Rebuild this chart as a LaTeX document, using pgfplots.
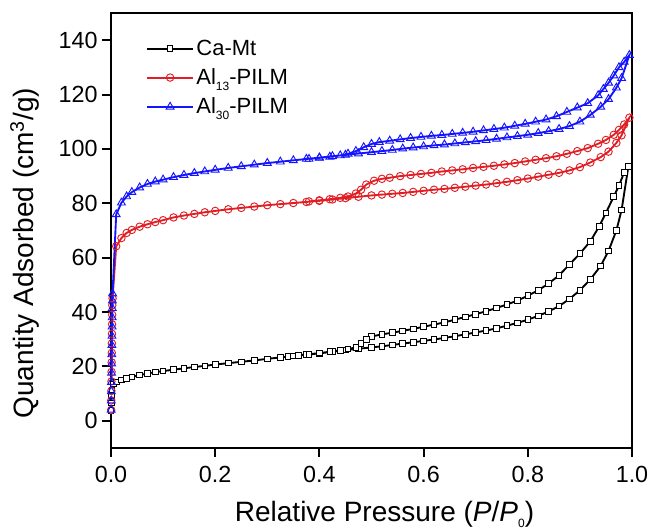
\documentclass[border=0pt]{standalone}
\usepackage{fontspec}
\setmainfont{Liberation Sans}
\usepackage{pgfplots}
\pgfplotsset{compat=1.18}

\definecolor{isoRed}{RGB}{225,30,35}
\definecolor{isoBlue}{RGB}{20,20,255}
% small, low subscript as in the reference
\newcommand{\lowsub}[2]{\raisebox{#2}{\fontsize{9}{9}\selectfont #1}}

\begin{document}
\begin{tikzpicture}
\begin{axis}[
    at={(0,0)}, anchor=south west,
    scale only axis,
    width=390.75pt, height=326.25pt,
    xmin=0, xmax=1, ymin=-10, ymax=150,
    xtick={0,0.2,0.4,0.6,0.8,1.0},
    ytick={0,20,40,60,80,100,120,140},
    xticklabel style={yshift=-4pt, /pgf/number format/.cd, fixed, fixed zerofill, precision=1},
    /pgf/number format/assume math mode=true,
    tick label style={font=\fontsize{17.5}{20}\selectfont},
    xtick pos=lower, ytick pos=left,
    tick align=outside,
    major tick length=6.5pt,
    axis line style={line width=1.5pt},
    every tick/.style={black, line width=1.5pt},
    xlabel={Relative Pressure (\textit{P}/\textit{P}\lowsub{0}{-4pt})},
    ylabel={Quantity Adsorbed (cm\textsuperscript{3}/g)},
    label style={font=\fontsize{21}{24}\selectfont},
    xlabel style={at={(axis description cs:0.525,0)}, anchor=base, yshift=-55.5pt},
    ylabel style={at={(axis description cs:0,0.448)}, anchor=base, yshift=57.75pt},
    legend style={draw=none, fill=none, at={(axis description cs:0.06,0.951)}, anchor=north west,
        font=\fontsize{16.5}{19}\selectfont, row sep=4.5pt,
        nodes={inner sep=2pt}},
    legend cell align=left,
    legend image code/.code={\draw[mark repeat=2, mark phase=2, line width=1.4pt, #1]
        plot coordinates {(0pt,0pt) (17pt,0pt) (34pt,0pt)};},
]

% Ca-Mt: adsorption branch, then desorption branch
\addplot[black, line width=1.4pt, mark=square*, mark size=2.1pt,
    mark options={fill=white, draw=black, line width=0.7pt}]
coordinates {
(0.0003,3.8) (0.0006,6.6) (0.0010,9.2) (0.0015,11.4) (0.005,13.6)
(0.01,14.3) (0.02,15.0) (0.03,15.6) (0.04,16.1) (0.055,16.8) (0.07,17.4) (0.085,17.9)
(0.10,18.3) (0.12,18.8) (0.14,19.3) (0.16,19.8) (0.18,20.2) (0.20,20.7) (0.225,21.2)
(0.25,21.7) (0.275,22.2) (0.30,22.8) (0.325,23.3) (0.35,23.8) (0.375,24.3) (0.40,24.8)
(0.425,25.4) (0.45,26.0) (0.475,26.5) (0.50,27.0) (0.52,27.4) (0.54,27.9) (0.56,28.4)
(0.58,28.9) (0.60,29.4) (0.62,29.9) (0.64,30.5) (0.66,31.1) (0.68,31.8) (0.70,32.5)
(0.72,33.2) (0.74,34.0) (0.76,35.0) (0.78,36.0) (0.80,37.2) (0.82,38.6) (0.84,40.2)
(0.86,42.2) (0.88,44.8) (0.90,48.0) (0.92,52.0) (0.94,57.0) (0.955,62.5) (0.97,70.0)
(0.98,77.5) (0.993,93.5)
(0.985,91.4) (0.975,86.5) (0.965,82.5) (0.95,76.5) (0.937,71.5) (0.92,66.0) (0.90,61.5)
(0.88,57.5) (0.86,53.5) (0.84,50.5) (0.82,48.0) (0.80,46.0) (0.78,44.2) (0.76,42.8)
(0.74,41.5) (0.72,40.3) (0.70,39.2) (0.68,38.2) (0.66,37.2) (0.64,36.2) (0.62,35.4)
(0.60,34.6) (0.58,33.8) (0.56,33.1) (0.54,32.4) (0.52,31.8) (0.50,31.0) (0.49,30.0)
(0.48,28.5) (0.47,27.0) (0.455,26.4) (0.44,25.9) (0.42,25.4) (0.40,24.9) (0.38,24.5)
(0.36,24.1) (0.34,23.7)
};
\addlegendentry{Ca-Mt}

% Al13-PILM
\addplot[isoRed, line width=1.4pt, mark=o, mark size=2.8pt,
    mark options={fill=white, draw=isoRed, line width=0.7pt}]
coordinates {
(0.0003,4.0) (0.0005,7.5) (0.0007,11.0) (0.0009,14.5) (0.0011,18.0) (0.0013,21.5)
(0.0015,25.0) (0.0017,28.5) (0.0019,32.0) (0.0021,35.5) (0.0023,39.0) (0.0025,42.5)
(0.003,45.0)
(0.01,64.2) (0.02,67.2) (0.03,69.1) (0.04,70.2) (0.055,71.4) (0.07,72.3) (0.085,73.1)
(0.10,73.8) (0.12,74.8) (0.14,75.5) (0.16,76.1) (0.18,76.7) (0.20,77.2) (0.225,77.8)
(0.25,78.3) (0.275,78.8) (0.30,79.3) (0.325,79.7) (0.35,80.1) (0.375,80.5) (0.40,80.9)
(0.425,81.4) (0.45,81.9) (0.475,82.4) (0.50,82.9) (0.52,83.2) (0.54,83.5) (0.56,83.8)
(0.58,84.2) (0.60,84.6) (0.62,85.0) (0.64,85.3) (0.66,85.7) (0.68,86.1) (0.70,86.5)
(0.72,86.9) (0.74,87.4) (0.76,87.9) (0.78,88.5) (0.80,89.1) (0.82,89.8) (0.84,90.5)
(0.86,91.2) (0.88,92.1) (0.90,93.3) (0.92,95.0) (0.94,97.0) (0.955,99.0) (0.97,102.2)
(0.98,105.0) (0.995,111.5)
(0.985,109.0) (0.975,107.0) (0.965,105.2) (0.95,103.3) (0.935,101.9) (0.915,100.3)
(0.895,99.2) (0.875,98.2) (0.855,97.3) (0.835,96.6) (0.815,96.0) (0.795,95.4)
(0.775,94.8) (0.755,94.3) (0.735,93.8) (0.715,93.4) (0.695,93.0) (0.675,92.5)
(0.655,92.1) (0.635,91.7) (0.615,91.2) (0.595,90.8) (0.575,90.4) (0.555,90.0)
(0.535,89.4) (0.52,89.0) (0.505,88.3) (0.49,86.9) (0.48,85.0) (0.47,83.6) (0.455,82.5)
(0.44,82.0) (0.42,81.5) (0.40,81.1) (0.38,80.7)
};
\addlegendentry{Al\lowsub{13}{-4.5pt}-PILM}

% Al30-PILM
\addplot[isoBlue, line width=1.4pt, mark=triangle, mark size=3.4pt,
    mark options={fill=white, draw=isoBlue, line width=0.7pt}]
coordinates {
(0.0003,4.0) (0.0005,7.4) (0.0007,10.8) (0.0009,14.2) (0.0011,17.6) (0.0013,21.0)
(0.0015,24.4) (0.0017,27.8) (0.0019,31.2) (0.0021,34.6) (0.0023,38.0) (0.0025,41.4)
(0.0027,44.2) (0.003,46.8)
(0.01,75.9) (0.02,80.2) (0.03,82.5) (0.04,84.1) (0.055,85.8) (0.07,87.1) (0.085,88.0)
(0.10,88.7) (0.12,89.6) (0.14,90.4) (0.16,91.1) (0.18,91.7) (0.20,92.3) (0.225,93.0)
(0.25,93.6) (0.275,94.2) (0.30,94.8) (0.325,95.3) (0.35,95.8) (0.375,96.3) (0.40,96.8)
(0.425,97.3) (0.45,97.8) (0.475,98.3) (0.50,98.8) (0.52,99.2) (0.54,99.6) (0.56,100.1)
(0.58,100.5) (0.60,100.9) (0.62,101.3) (0.64,101.6) (0.66,102.0) (0.68,102.4) (0.70,102.8)
(0.72,103.2) (0.74,103.7) (0.76,104.2) (0.78,104.7) (0.80,105.2) (0.82,105.8) (0.84,106.5)
(0.86,107.3) (0.88,108.4) (0.90,110.0) (0.92,112.5) (0.94,115.5) (0.955,118.3) (0.97,122.5)
(0.98,126.0) (0.995,134.5)
(0.985,132.0) (0.975,130.0) (0.965,127.0) (0.955,124.3) (0.945,122.0) (0.935,119.7)
(0.915,116.8) (0.895,115.2) (0.875,113.6) (0.855,112.0) (0.835,110.8) (0.815,110.0)
(0.795,109.2) (0.775,108.5) (0.755,107.8) (0.735,107.3) (0.715,106.8) (0.695,106.3)
(0.675,105.9) (0.655,105.5) (0.635,105.1) (0.615,104.8) (0.595,104.4) (0.575,104.0)
(0.555,103.5) (0.535,103.0) (0.515,102.5) (0.50,101.8) (0.485,100.6) (0.47,99.2)
(0.455,98.2) (0.44,97.6) (0.42,97.1) (0.40,96.7) (0.38,96.3)
};
\addlegendentry{Al\lowsub{30}{-4.5pt}-PILM}

\end{axis}
\pgfresetboundingbox
\useasboundingbox (-83.25pt,-61.5pt) rectangle (407.25pt,336pt);
\end{tikzpicture}
\end{document}
